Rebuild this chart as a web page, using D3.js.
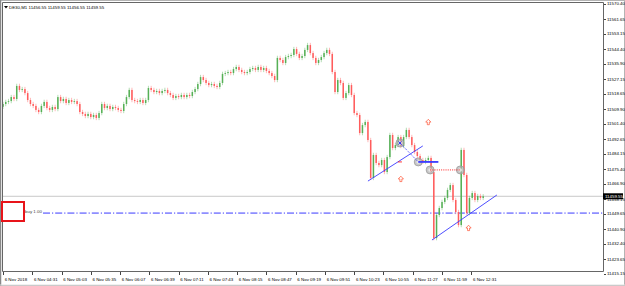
<!DOCTYPE html>
<html lang="en">
<head>
	<meta charset="UTF-8">
	<title>DE30,M1</title>
	<script src="https://cdn.jsdelivr.net/npm/d3@7"></script>
	<style>
		body {
			margin: 0;
			background: #fff;
		}

		svg {
			display: block;
			font-family: "Liberation Sans", Arial, sans-serif;
		}

		.axis text {
			font-size: 4.4px;
			fill: #000;
		}

		.axis line {
			stroke: #444;
			shape-rendering: crispEdges;
		}

		.axis path {
			display: none;
		}
	</style>
</head>
<body>
<script>
	// header: symbol + last bar O H L C
	var symbol = "DE30,M1";
	var lastBar = [11456.55, 11459.55, 11456.55, 11459.55];

	// one close every 3 minutes
	var barMinutes = 3;
	var firstOpen = 11511.0;
	var closes = [
		11512.6, 11513.8, 11514.3, 11516.6, 11515.5, 11523.0, 11520.7, 11521.2, 11518.9, 11514.9,
		11512.6, 11511.5, 11509.2, 11508.0, 11511.5, 11513.8, 11510.3, 11509.2, 11510.9, 11509.7,
		11516.6, 11514.3, 11515.5, 11513.2, 11514.9, 11513.8, 11514.3, 11512.6, 11508.0, 11506.9,
		11505.7, 11506.9, 11505.1, 11506.3, 11504.6, 11507.4, 11512.6, 11510.3, 11511.5, 11509.7,
		11510.9, 11510.3, 11509.2, 11508.6, 11512.6, 11516.6, 11520.7, 11514.9, 11514.3, 11513.8,
		11514.9, 11513.2, 11514.9, 11521.8, 11520.7, 11519.5, 11520.1, 11518.9, 11520.1, 11520.7,
		11518.9, 11517.8, 11516.1, 11517.2, 11516.6, 11517.8, 11516.6, 11517.8, 11517.2, 11519.5,
		11521.2, 11524.1, 11528.1, 11526.4, 11524.7, 11523.5, 11524.1, 11523.0, 11522.4, 11524.7,
		11529.9, 11530.4, 11531.0, 11530.4, 11532.7, 11533.9, 11532.2, 11531.0, 11530.4, 11531.0,
		11532.7, 11533.3, 11532.2, 11533.9, 11532.2, 11533.3, 11531.6, 11530.4, 11528.7, 11526.4,
		11539.1, 11537.9, 11536.2, 11539.6, 11540.2, 11540.8, 11544.2, 11541.4, 11539.1, 11540.2,
		11543.7, 11546.5, 11541.9, 11539.1, 11536.2, 11537.9, 11539.6, 11541.9, 11543.7, 11541.4,
		11531.0, 11519.5, 11526.4, 11524.7, 11516.1, 11518.9, 11523.5, 11517.8, 11507.4, 11506.3,
		11495.9, 11500.5, 11502.3, 11491.9, 11470.1, 11483.3, 11478.7, 11477.5, 11480.4, 11473.5,
		11482.1, 11494.8, 11487.3, 11489.0, 11493.6, 11488.5, 11493.6, 11497.7, 11493.6, 11489.0,
		11485.0, 11482.7, 11480.4, 11479.3, 11480.4, 11481.6, 11473.5, 11435.5, 11448.8, 11452.8,
		11456.3, 11458.6, 11463.2, 11466.0, 11457.4, 11450.5, 11443.0, 11486.2, 11471.8, 11449.9,
		11458.6, 11461.4, 11457.4, 11459.7, 11458.6, 11459.55
	];

	var priceTicks = [
		11570.40, 11561.65, 11553.15, 11544.40, 11535.90, 11527.15, 11518.65, 11509.90, 11501.40, 11492.65,
		11484.15, 11475.40, 11466.90, 11458.15, 11449.65, 11440.90, 11432.40, 11423.65, 11415.15
	];

	var timeLabels = [
		"6 Nov 2018", "6 Nov 04:31", "6 Nov 05:03", "6 Nov 05:35", "6 Nov 06:07", "6 Nov 06:39",
		"6 Nov 07:11", "6 Nov 07:43", "6 Nov 08:15", "6 Nov 08:47", "6 Nov 09:19", "6 Nov 09:51",
		"6 Nov 10:23", "6 Nov 10:55", "6 Nov 11:27", "6 Nov 11:59", "6 Nov 12:31"
	];

	var bidPrice = 11459.55;
	var orderPrice = 11449.90;
	var orderLabel = "buy 1.00";

	// drawn objects: [time, price]
	var trendLines = [
		[["10:38", 11468.3], ["11:38", 11488.5]],
		[["11:48", 11434.4], ["12:59", 11460.3]]
	];
	var tradeLine = [["11:13", 11490.2], ["11:33", 11479.3]];
	var stopLine = [["11:33", 11479.3], ["11:55", 11479.3]];
	var closeLine = [["11:46", 11474.7], ["12:19", 11474.7]];
	var circles = [["11:13", 11490.2], ["11:33", 11479.3], ["11:46", 11474.7], ["12:19", 11474.7]];
	var arrows = [["11:44", 11502.2], ["11:14", 11469.5], ["12:28", 11441.3]];

	var width = 625, height = 286;
	var plotL = 2, plotR = 603, plotT = 2, plotB = 271;

	var start = new Date(2018, 10, 6, 3, 59);
	function at(hm) {
		var p = hm.split(":");
		return new Date(2018, 10, 6, +p[0], +p[1]);
	}

	var x = d3.scaleTime()
		.domain([start, d3.timeMinute.offset(start, 656)])
		.range([3, plotR]);
	var y = d3.scaleLinear()
		.domain([11415.15, 11570.40])
		.range([273.5, 3.5]);

	var svg = d3.select("body").append("svg")
		.attr("width", width)
		.attr("height", height);

	svg.append("rect")
		.attr("x", 0.5).attr("y", 0.5)
		.attr("width", width - 1).attr("height", height - 1)
		.attr("fill", "#fff")
		.attr("stroke", "#b4b4b4");

	svg.append("clipPath").attr("id", "plot")
		.append("rect")
		.attr("x", plotL).attr("y", plotT)
		.attr("width", plotR - plotL).attr("height", plotB - plotT);

	var g = svg.append("g").attr("clip-path", "url(#plot)");

	// bid line
	g.append("line")
		.attr("x1", plotL).attr("x2", plotR)
		.attr("y1", y(bidPrice)).attr("y2", y(bidPrice))
		.attr("stroke", "#c8c8c8");

	// order line
	g.append("line")
		.attr("x1", 43).attr("x2", plotR)
		.attr("y1", y(orderPrice)).attr("y2", y(orderPrice))
		.attr("stroke", "#3a3aff")
		.attr("stroke-dasharray", "7,2,1.2,2");
	g.append("text")
		.attr("x", 25).attr("y", y(orderPrice) - 0.5)
		.attr("font-size", "4.4px")
		.attr("fill", "#444")
		.text(orderLabel);

	// candles
	var bars = closes.map(function (c, i) {
		return {
			t: d3.timeMinute.offset(start, i * barMinutes),
			o: i === 0 ? firstOpen : closes[i - 1],
			c: c
		};
	});

	var candle = g.append("g").selectAll("g")
		.data(bars)
		.enter().append("g")
		.attr("stroke", function (d) {
			return d.c >= d.o ? "#56b056" : "#ff5c5c";
		})
		.attr("fill", function (d) {
			return d.c >= d.o ? "#56b056" : "#ff5c5c";
		});

	candle.append("line")
		.attr("x1", function (d) { return x(d.t); })
		.attr("x2", function (d) { return x(d.t); })
		.attr("y1", function (d) { return y(Math.max(d.o, d.c)) - 2.2; })
		.attr("y2", function (d) { return y(Math.min(d.o, d.c)) + 2.2; })
		.attr("stroke-width", 0.8)
		.attr("stroke-opacity", 0.55);

	candle.append("rect")
		.attr("x", function (d) { return x(d.t) - 0.75; })
		.attr("width", 1.5)
		.attr("y", function (d) { return y(Math.max(d.o, d.c)); })
		.attr("height", function (d) { return Math.max(0.8, Math.abs(y(d.o) - y(d.c))); })
		.attr("stroke", "none");

	function pt(p) {
		return [x(at(p[0])), y(p[1])];
	}

	// trend lines
	g.selectAll(".trend")
		.data(trendLines)
		.enter().append("line")
		.attr("class", "trend")
		.attr("x1", function (d) { return pt(d[0])[0]; })
		.attr("y1", function (d) { return pt(d[0])[1]; })
		.attr("x2", function (d) { return pt(d[1])[0]; })
		.attr("y2", function (d) { return pt(d[1])[1]; })
		.attr("stroke", "#3a3aff")
		.attr("stroke-width", 0.9);

	// circles on trade points
	var circ = g.selectAll(".mark")
		.data(circles)
		.enter().append("g")
		.attr("class", "mark")
		.attr("transform", function (d) {
			return "translate(" + pt(d) + ")";
		});
	circ.append("circle")
		.attr("r", 4)
		.attr("fill", "#b0b0b0")
		.attr("fill-opacity", 0.7)
		.attr("stroke", "#9a9a9a")
		.attr("stroke-width", 0.8);
	circ.append("circle")
		.attr("r", 1.8)
		.attr("fill", "#fff")
		.attr("fill-opacity", 0.6);

	g.append("line")
		.attr("x1", pt(tradeLine[0])[0]).attr("y1", pt(tradeLine[0])[1])
		.attr("x2", pt(tradeLine[1])[0]).attr("y2", pt(tradeLine[1])[1])
		.attr("stroke", "#3a3aff")
		.attr("stroke-dasharray", "1,1.2");

	g.append("line")
		.attr("x1", pt(stopLine[0])[0]).attr("y1", pt(stopLine[0])[1])
		.attr("x2", pt(stopLine[1])[0]).attr("y2", pt(stopLine[1])[1])
		.attr("stroke", "#3a3aff")
		.attr("stroke-width", 1.8);

	g.append("line")
		.attr("x1", pt(closeLine[0])[0]).attr("y1", pt(closeLine[0])[1])
		.attr("x2", pt(closeLine[1])[0]).attr("y2", pt(closeLine[1])[1])
		.attr("stroke", "#ff2020")
		.attr("stroke-dasharray", "1,1.2");

	// entry marks
	g.append("path")
		.attr("d", "M-1.5,-1.5L1.5,1.5M-1.5,1.5L1.5,-1.5")
		.attr("transform", "translate(" + pt(tradeLine[0]) + ")")
		.attr("stroke", "#2020ff")
		.attr("stroke-width", 0.9);
	g.append("line")
		.attr("x1", pt(tradeLine[0])[0] - 2).attr("x2", pt(tradeLine[0])[0] + 2)
		.attr("y1", pt(stopLine[0])[1]).attr("y2", pt(stopLine[0])[1])
		.attr("stroke", "#ff2020")
		.attr("stroke-width", 0.9);

	// up arrows
	g.selectAll(".arrow")
		.data(arrows)
		.enter().append("path")
		.attr("class", "arrow")
		.attr("transform", function (d) {
			return "translate(" + pt(d) + ")";
		})
		.attr("d", "M0,-2.8L2.6,0L1,0L1,2.6L-1,2.6L-1,0L-2.6,0Z")
		.attr("fill", "#fff")
		.attr("stroke", "#ff5030")
		.attr("stroke-width", 0.7);

	// frame
	svg.append("path")
		.attr("d", "M" + (plotL + 0.5) + "," + (plotT + 0.5) + "H" + (plotR + 0.5) + "V" + (plotB + 0.5) + "H" + (plotL + 0.5) + "Z")
		.attr("fill", "none")
		.attr("stroke", "#666");
	svg.append("line")
		.attr("x1", 0.5).attr("x2", 0.5)
		.attr("y1", 0).attr("y2", height)
		.attr("stroke", "#888")
		.attr("stroke-width", 1.5);

	// price axis
	svg.append("g")
		.attr("class", "axis")
		.attr("transform", "translate(" + (plotR + 0.5) + ",0)")
		.call(d3.axisRight(y)
			.tickValues(priceTicks)
			.tickFormat(d3.format(".2f"))
			.tickSize(2.5)
			.tickSizeOuter(0)
			.tickPadding(1));

	// time axis
	var tickDates = timeLabels.map(function (d, i) {
		return d3.timeMinute.offset(start, i * 32);
	});
	var xa = svg.append("g")
		.attr("class", "axis")
		.attr("transform", "translate(0," + (plotB + 0.5) + ")")
		.call(d3.axisBottom(x)
			.tickValues(tickDates)
			.tickFormat(function (d, i) { return timeLabels[i]; })
			.tickSize(3)
			.tickSizeOuter(0));
	xa.selectAll("text")
		.attr("text-anchor", "start")
		.attr("x", 1.2)
		.attr("y", 6);

	// bid price tag
	svg.append("rect")
		.attr("x", plotR).attr("y", y(bidPrice) - 3)
		.attr("width", 20).attr("height", 6)
		.attr("fill", "#000");
	svg.append("text")
		.attr("x", plotR + 2).attr("y", y(bidPrice) + 1.6)
		.attr("font-size", "4.4px")
		.attr("fill", "#fff")
		.text(d3.format(".2f")(bidPrice));

	// header
	svg.append("path")
		.attr("d", "M4,6L8,6L6,8.6Z")
		.attr("fill", "#000");
	svg.append("text")
		.attr("x", 9).attr("y", 8.8)
		.attr("font-size", "4.4px")
		.attr("fill", "#000")
		.text(symbol + "  " + lastBar.map(d3.format(".2f")).join(" "));

	// highlight box
	svg.append("rect")
		.attr("x", 2).attr("y", 202)
		.attr("width", 22).attr("height", 19)
		.attr("fill", "#fff")
		.attr("stroke", "#e8141a")
		.attr("stroke-width", 2);

	svg.append("line")
		.attr("x1", 0).attr("x2", width)
		.attr("y1", 285).attr("y2", 285)
		.attr("stroke", "#e0e0e0");
</script>
</body>
</html>
